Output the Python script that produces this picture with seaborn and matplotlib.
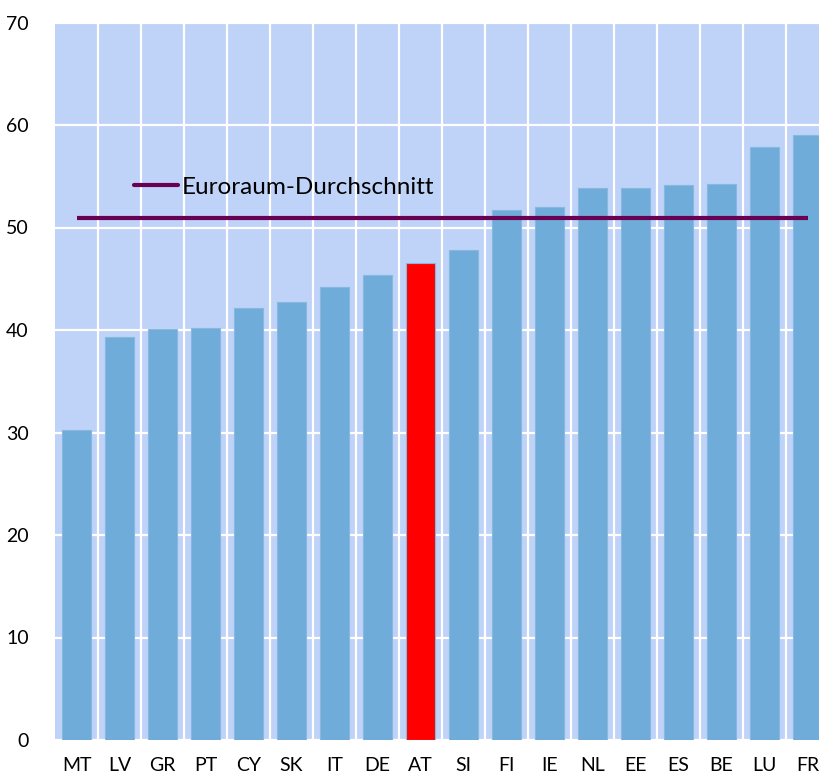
import matplotlib
matplotlib.use("Agg")
import matplotlib.pyplot as plt
import seaborn as sns
import pandas as pd
import numpy as np
from matplotlib.lines import Line2D

countries = ["MT", "LV", "GR", "PT", "CY", "SK", "IT", "DE", "AT", "SI",
             "FI", "IE", "NL", "EE", "ES", "BE", "LU", "FR"]
values = [30.2, 39.3, 40.1, 40.2, 42.1, 42.7, 44.2, 45.4, 46.5, 47.8,
          51.7, 52.0, 53.9, 53.9, 54.1, 54.2, 57.9, 59.0]
euro_avg = 50.9
highlight = "AT"
legend_label = "Euroraum-Durchschnitt"
yticks = [0, 10, 20, 30, 40, 50, 60, 70]

BG = "#bfd2f8"
BAR = "#70acd9"
RED = "#ff0000"
LINE = "#6a0052"

sns.set_theme(style="white")
plt.rcParams["font.family"] = ["Lato", "DejaVu Sans"]
plt.rcParams["text.color"] = "black"

df = pd.DataFrame({"country": countries, "value": values})
palette = {c: (RED if c == highlight else BAR) for c in countries}

fig = plt.figure(figsize=(8.19, 7.74), dpi=100)
ax = fig.add_axes([55 / 819, 34 / 774, 774 / 819, 717.5 / 774])
ax.set_facecolor(BG)

sns.barplot(data=df, x="country", y="value", hue="country", palette=palette,
            order=countries, hue_order=countries, legend=False, width=0.67,
            saturation=1, edgecolor="#86b8e0", linewidth=0.8, ax=ax, zorder=3)

ax.set_xlim(-0.5, len(countries) - 0.5)
ax.set_ylim(0, 70)
ax.set_yticks(yticks)
ax.set_xticks(np.arange(len(countries)) + 0.5, minor=True)
ax.grid(False)
ax.grid(True, axis="y", which="major", color="white", linewidth=1.6, zorder=1)
ax.grid(True, axis="x", which="minor", color="white", linewidth=1.6, zorder=1)
ax.set_axisbelow(True)

ax.plot([0, len(countries) - 1], [euro_avg, euro_avg], color=LINE,
        linewidth=3.0, solid_capstyle="butt", zorder=5)

handle = Line2D([], [], color=LINE, linewidth=3.0)
leg = ax.legend([handle], [legend_label], loc="center left",
                bbox_to_anchor=((134 - 55) / 774, (740 - 187) / 717.5),
                frameon=False, fontsize=17.5, handlelength=1.8,
                handletextpad=0.17, borderpad=0, borderaxespad=0)
for t in leg.get_texts():
    t.set_color("black")

for s in ax.spines.values():
    s.set_visible(False)

ax.set_xlabel("")
ax.set_ylabel("")
ax.tick_params(axis="both", which="both", length=0)
ax.tick_params(axis="y", pad=19, labelsize=14, labelcolor="black")
ax.tick_params(axis="x", pad=12, labelsize=14, labelcolor="black")

fig.savefig("out.png", dpi=100)
